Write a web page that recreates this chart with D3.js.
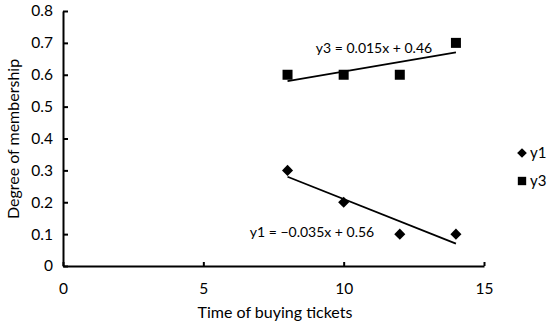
<!DOCTYPE html>
<html>
<head>
<meta charset="utf-8">
<script src="https://cdn.jsdelivr.net/npm/d3@7"></script>
<style>
  body { margin: 0; background: #fff; }
  text { font-family: Lato, "Open Sans", sans-serif; fill: #000; }
</style>
</head>
<body>
<div id="chart"></div>
<script>
// data
const xs = [8, 10, 12, 14];
const y1 = [0.3, 0.2, 0.1, 0.1];
const y3 = [0.6, 0.6, 0.6, 0.7];
const xTicks = [0, 5, 10, 15];
const yTicks = [0, 0.1, 0.2, 0.3, 0.4, 0.5, 0.6, 0.7, 0.8];
const fit1 = [-0.035, 0.56];
const fit3 = [0.015, 0.46];

const svg = d3.select("#chart").append("svg")
  .attr("width", 550)
  .attr("height", 325);

const x = d3.scaleLinear().domain([0, 15]).range([63, 484]);
const y = d3.scaleLinear().domain([0, 0.8]).range([266, 11]);

// axes
const xAxis = svg.append("g")
  .attr("transform", "translate(0," + y(0) + ")")
  .call(d3.axisBottom(x).tickValues(xTicks).tickSizeInner(-4).tickSizeOuter(0).tickPadding(17));
const yAxis = svg.append("g")
  .attr("transform", "translate(" + x(0) + ",0)")
  .call(d3.axisLeft(y).tickValues(yTicks).tickSizeInner(-5).tickSizeOuter(0).tickPadding(10)
    .tickFormat(d => d === 0 ? "0" : d3.format(".1f")(d)));

[xAxis, yAxis].forEach(function(a) {
  a.select(".domain").attr("stroke", "#000").attr("stroke-width", 2);
  a.selectAll(".tick line").attr("stroke", "#000").attr("stroke-width", 2);
  a.selectAll(".tick text").attr("font-size", 15.5).attr("font-family", "Lato, sans-serif");
});

// trend lines
function trend(f) {
  return [[8, f[0] * 8 + f[1]], [14, f[0] * 14 + f[1]]];
}
const line = d3.line().x(d => x(d[0])).y(d => y(d[1]));
[fit1, fit3].forEach(function(f) {
  svg.append("path")
    .attr("d", line(trend(f)))
    .attr("fill", "none")
    .attr("stroke", "#000")
    .attr("stroke-width", 1.8);
});

// markers
const diamond = d3.symbol().type(d3.symbolDiamond2).size(78);
const square = d3.symbol().type(d3.symbolSquare).size(100);

svg.selectAll(".p1").data(xs).enter().append("path")
  .attr("class", "p1")
  .attr("d", diamond)
  .attr("transform", (d, i) => "translate(" + x(d) + "," + y(y1[i]) + ")");
svg.selectAll(".p3").data(xs).enter().append("path")
  .attr("class", "p3")
  .attr("d", square)
  .attr("transform", (d, i) => "translate(" + x(d) + "," + y(y3[i]) + ")");

// equation labels
svg.append("text").attr("x", 374).attr("y", 53).attr("text-anchor", "middle")
  .attr("font-size", 14).text("y3 = 0.015x + 0.46");
svg.append("text").attr("x", 312).attr("y", 237).attr("text-anchor", "middle")
  .attr("font-size", 14).text("y1 = \u22120.035x + 0.56");

// legend
const legend = svg.append("g");
legend.append("path").attr("d", d3.symbol().type(d3.symbolDiamond2).size(60))
  .attr("transform", "translate(522,153)");
legend.append("text").attr("x", 530).attr("y", 158).attr("font-size", 15).text("y1");
legend.append("path").attr("d", d3.symbol().type(d3.symbolSquare).size(70))
  .attr("transform", "translate(522,181)");
legend.append("text").attr("x", 530).attr("y", 186).attr("font-size", 15).text("y3");

// axis titles
svg.append("text").attr("x", 275).attr("y", 318).attr("text-anchor", "middle")
  .attr("font-size", 16).text("Time of buying tickets");
svg.append("text").attr("transform", "translate(19,139) rotate(-90)")
  .attr("text-anchor", "middle").attr("font-size", 16).text("Degree of membership");
</script>
</body>
</html>
